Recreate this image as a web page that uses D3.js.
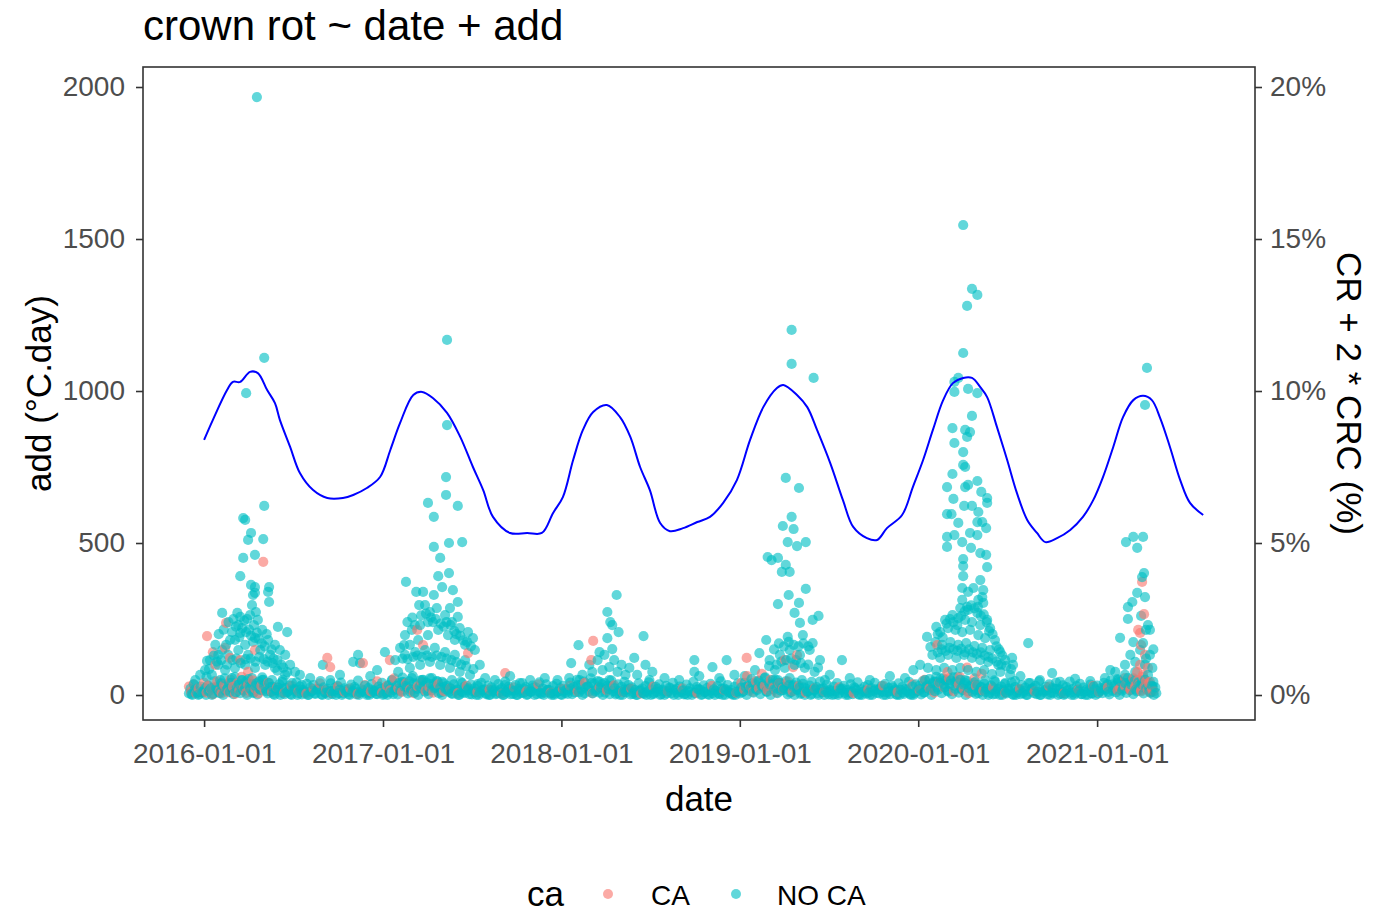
<!DOCTYPE html>
<html>
<head>
<meta charset="utf-8">
<script src="https://cdn.jsdelivr.net/npm/d3@7"></script>
<style>
  body { margin: 0; background: #fff; }
  svg { display: block; }
  text { font-family: "Liberation Sans", Arial, sans-serif; }
</style>
</head>
<body>
<div id="chart"></div>
<script>
// ---- data ----
const categories = ['CA', 'NO CA']
const colors = ['#F8766D', '#00BFC4']

const yTicks = [0, 500, 1000, 1500, 2000]
const pctTicks = [0, 5, 10, 15, 20]
const xTickYears = [2016, 2017, 2018, 2019, 2020, 2021]

// loess line, CR + 2*CRC (%)
const lineDates = ['2016-01-01','2016-01-19','2016-02-17','2016-02-29','2016-03-15','2016-04-04','2016-04-20','2016-05-09','2016-05-25','2016-06-04','2016-06-25','2016-07-15','2016-08-11','2016-09-09','2016-10-11','2016-11-01','2016-11-29','2016-12-26',
  '2017-01-16','2017-02-05','2017-03-04','2017-03-22','2017-04-13','2017-05-12','2017-06-08','2017-07-04','2017-07-25','2017-08-14','2017-09-18','2017-10-23','2017-11-22','2017-12-15',
  '2018-01-04','2018-01-25','2018-02-14','2018-03-07','2018-04-04','2018-05-01','2018-05-22','2018-06-11','2018-07-01','2018-07-22','2018-08-11','2018-09-07','2018-10-06','2018-11-01','2018-11-28','2018-12-26',
  '2019-01-22','2019-02-18','2019-03-18','2019-03-31','2019-04-28','2019-05-19','2019-06-08','2019-07-05','2019-07-31','2019-08-21','2019-09-18','2019-10-09','2019-10-29','2019-11-29','2019-12-21',
  '2020-01-11','2020-01-31','2020-02-21','2020-03-12','2020-04-02','2020-04-20','2020-05-07','2020-05-21','2020-06-10','2020-07-01','2020-07-21','2020-08-11','2020-08-31','2020-09-17','2020-10-11','2020-11-07','2020-12-03','2020-12-24',
  '2021-01-13','2021-02-03','2021-02-23','2021-03-16','2021-04-05','2021-04-23','2021-05-10','2021-05-30','2021-06-20','2021-07-10','2021-08-06']
const linePct = [8.39,9.05,10.03,10.30,10.30,10.63,10.59,10.03,9.60,9.05,8.16,7.30,6.74,6.48,6.48,6.58,6.81,7.17,
  8.06,8.95,9.87,9.97,9.77,9.28,8.49,7.50,6.74,5.86,5.33,5.33,5.33,5.99,
  6.51,7.73,8.72,9.31,9.54,9.14,8.49,7.50,6.74,5.66,5.39,5.49,5.69,5.86,6.32,7.07,
  8.39,9.47,10.10,10.20,9.87,9.47,8.72,7.63,6.41,5.53,5.16,5.10,5.49,5.92,6.84,
  7.73,8.72,9.70,10.26,10.43,10.43,10.13,9.80,8.82,7.73,6.64,5.76,5.33,5.03,5.16,5.43,5.86,6.41,
  7.17,8.16,9.14,9.70,9.84,9.70,9.11,8.16,7.07,6.32,5.92]

// NO CA low band, one value per week from 2015-12-01, -04 and -06
const noCaWeekly1 = `5 0 12 3 8
0 15 4 22 7 0 18 10 3 25 6 14 0 20 9 2 16 30 5 11 0 24 8 3 13 0 19 6 2 10 0 14 4 21 0 7 12 3 0 17 5 9 0 13 2 8 15 0 6 11 3 20
4 0 9 16 2 12 27 5 18 8 0 22 11 3 15 25 6 0 19 10 4 14 0 8 21 3 12 0 7 16 2 0 11 5 18 0 9 3 14 0 6 20 2 10 0 13 4 8 17 0 5 12
0 7 14 3 19 9 0 24 12 5 17 8 0 21 3 13 6 0 10 18 2 9 0 15 4 11 0 7 20 3 0 12 6 16 0 9 4 13 0 8 19 2 11 0 6 14 3 0 18 7 0 10
5 13 0 20 8 16 3 24 10 0 18 6 14 22 2 11 0 17 7 0 12 4 19 0 9 15 2 0 13 6 21 0 8 3 16 0 11 5 0 14 7 20 0 9 3 12 0 17 4 10 0 6
15 2 9 22 0 13 18 6 25 11 3 20 8 16 0 23 10 4 14 0 19 7 2 12 0 16 5 21 0 9 3 13 0 18 6 11 0 15 2 8 20 0 10 4 17 0 7 12 3 0 14 5
0 11 6 18 2 14 9 0 21 7 16 3 12 25 5 19 8 0`
const noCaWeekly2 = `20 35 8 28 14
30 22 45 18 38 55 26 40 60 33 48 24 52 36 29 44 58 21 39 27 16 35 50 23 31 19 42 28 15 37 24 33 17 46 25 20 38 14 29 41 22 18 34 26 47 19 31 23 36 15 28 40
25 33 48 20 39 57 30 45 62 35 28 50 41 55 32 46 24 38 30 21 35 18 43 27 16 34 22 29 40 19 31 25 17 36 23 44 28 15 33 20 39 26 18 31 24 42 21 35 16 29 37 22
30 19 41 26 50 33 44 28 55 37 46 24 39 31 48 22 35 27 18 33 25 16 38 21 29 42 19 27 35 17 30 24 40 20 28 15 34 22 43 26 18 32 23 37 19 29 45 21 33 16 27 38
24 40 31 52 36 47 28 58 43 35 50 39 26 45 33 29 41 24 37 20 31 18 26 44 22 34 17 28 39 21 30 16 35 25 42 19 27 33 22 40 17 29 36 23 31 18 38 26 20 43 28 35
30 45 26 52 38 60 41 55 47 36 58 43 50 34 46 29 40 33 25 37 22 31 48 19 28 36 21 42 26 17 33 24 39 20 30 45 18 27 35 23 41 19 32 26 44 21 29 37 24 18 34 28
31 22 40 35 48 29 52 44 38 56 33 47 41 35 50 28 30 25`
const noCaWeekly3 = `3 18 0 10 22
12 0 25 8 30 14 40 22 9 35 18 45 28 6 38 20 50 12 26 4 16 0 21 9 3 14 0 18 7 0 11 5 19 2 8 0 13 24 6 0 15 3 9 20 0 12 7 0 17 4 10 0
8 21 3 30 15 42 26 10 38 20 48 30 14 36 22 44 9 27 16 5 19 0 12 7 22 2 10 0 15 6 0 18 3 9 0 12 20 4 0 14 7 0 11 24 3 8 0 16 5 0 10 2
14 4 22 9 33 18 6 28 40 12 25 35 8 19 30 2 13 0 9 20 4 0 14 7 0 18 3 10 0 12 5 22 0 8 15 2 0 11 6 19 0 9 3 14 0 7 21 0 10 4 0 13
9 26 14 38 20 45 30 12 35 50 22 40 16 28 8 33 18 4 24 11 0 15 6 20 0 9 13 2 0 17 7 0 11 22 3 0 14 8 0 19 5 10 0 13 24 2 0 9 16 4 0 12
20 8 32 16 44 25 55 36 14 48 30 60 22 40 12 34 18 6 26 10 0 16 4 21 0 9 14 2 0 18 6 0 12 23 3 0 10 15 0 7 20 4 0 13 8 0 17 3 11 0 6 19
5 16 27 10 34 20 45 14 38 26 50 18 32 40 22 12 28 6`

// NO CA season points, "day of year:add"
const noCa2016 = '108:1967 123:1109 86:993 123:622 80:582 84:576 96:533 90:510 121:513 80:451 104:461 74:391 104:355 133:355 104:336 133:306 131:339 37:270 68:270 74:257 151:224 170:207 53:181 74:204 6:112 96:362 100:329 98:296 94:263 106:273 102:230 110:247 78:220 63:181 84:165 104:188 119:214 131:181 145:165 155:148 166:132 37:148 23:165 12:115 29:99 49:132 70:148 90:132 115:148 135:132 176:99 186:76 196:66 43:82 63:89 84:99 104:89 125:99 145:89 166:66 16:66 33:49 57:56 78:49 98:56 119:49 139:49 160:43 180:39 200:33 243:99 315:132 319:105 305:109 354:82 278:66 217:56 258:49 340:62 -8:66 -18:49 2:82 29:132 45:165 57:207 70:230 86:207 ' +
  '30:200 40:215 50:240 60:250 65:225 72:190 82:245 88:250 92:215 96:195 100:175 108:205 112:185 118:170 124:160 128:200 138:150 142:120 150:115 158:100 162:90 20:130 26:110 35:115 47:100 58:115 66:120 75:105 85:118 95:120 105:110 113:125 122:118 130:110 140:105 150:80 170:75 10:85 5:60'
const noCa2017 = '131:1168 131:888 129:717 129:658 92:632 104:586 153:622 104:487 135:500 162:503 117:451 113:391 135:401 121:355 143:345 137:286 153:306 153:257 174:207 184:187 47:372 68:339 82:339 104:329 74:296 43:164 86:296 96:273 110:286 127:263 141:240 157:220 92:240 76:230 59:214 45:197 35:155 55:165 72:181 92:197 113:214 133:197 147:181 168:165 188:148 25:115 45:132 66:141 86:148 106:155 127:141 147:132 168:115 198:99 31:76 55:89 76:99 96:109 117:99 137:89 157:76 178:66 209:56 18:49 39:43 59:56 80:49 100:56 121:43 141:49 162:39 194:36 229:49 250:33 260:62 301:49 331:56 280:39 4:141 ' +
  '50:240 60:255 65:230 78:262 88:268 98:255 102:240 108:250 118:235 124:225 130:240 138:230 146:210 150:200 158:195 164:180 172:175 180:160 40:120 50:118 62:125 70:130 80:125 90:130 100:125 110:130 120:125 130:120 140:115 150:108 160:100 170:95 185:85'
const noCa2018 = '113:329 94:273 100:240 104:230 117:207 168:194 94:187 35:164 78:141 104:151 20:105 149:122 172:99 272:115 272:76 309:92 338:115 57:99 74:115 88:132 108:115 123:99 139:89 43:66 63:76 84:82 98:92 115:76 131:66 155:66 186:76 37:49 78:43 98:49 129:43 180:49 211:56 241:49 282:62 323:56 354:66 16:56 -8:49'
const noCa2019 = '106:1201 106:1089 151:1043 94:714 121:681 106:586 88:556 110:546 98:503 117:490 135:503 57:454 78:451 65:444 94:428 102:405 86:405 135:349 100:329 121:303 78:299 112:270 161:260 149:247 123:237 98:191 129:197 149:171 54:181 40:138 61:115 82:132 102:148 123:132 143:148 164:115 72:82 92:89 112:99 133:89 153:76 184:66 51:56 78:49 102:56 127:49 147:43 174:49 209:115 225:56 266:49 307:62 338:56 31:82 10:62 ' +
  '70:150 80:170 90:160 100:175 110:165 120:160 130:170 140:160 60:95 75:100 85:110 95:115 105:120 115:115 125:105 140:100 160:90'
const noCa2020 = '92:1546 110:1336 121:1316 100:1280 92:1125 74:1030 82:1043 74:997 102:1007 121:993 110:918 70:878 96:872 106:865 100:849 74:829 92:799 92:757 96:750 70:727 121:704 59:684 96:684 102:691 129:668 141:648 141:632 72:645 59:595 68:595 94:622 110:622 123:602 121:569 82:566 131:569 139:549 59:520 59:487 74:526 90:503 106:533 121:526 108:484 127:467 139:461 92:447 141:421 92:424 92:391 127:378 90:352 102:339 113:352 133:345 131:322 90:313 123:313 133:303 86:286 102:280 121:270 141:247 37:224 18:191 25:158 225:171 -10:82 4:99 192:122 194:99 274:72 55:247 70:263 82:253 96:247 110:240 127:230 147:220 45:207 61:220 76:214 90:207 106:214 123:197 137:187 157:181 35:174 49:165 66:174 82:165 98:171 115:161 131:155 147:148 168:141 29:132 45:122 61:132 78:122 94:132 110:122 127:115 143:109 164:99 178:115 20:89 37:82 53:89 70:82 86:89 102:82 119:76 135:82 151:69 168:76 188:66 209:62 14:49 35:43 55:49 76:43 96:49 117:43 137:49 157:43 178:39 198:46 229:39 249:49 290:43 321:53 352:46 ' +
  '40:200 50:190 58:235 65:250 72:240 80:230 88:260 95:275 100:290 108:295 115:285 122:290 128:260 134:265 140:240 145:210 152:200 160:160 165:150 172:130 40:140 48:150 56:145 64:155 72:150 80:145 88:152 96:140 104:150 112:140 120:135 128:140 136:130 144:125 152:120 160:110 170:100 180:95 190:85'
const noCa2021 = '102:1076 98:954 59:503 74:520 94:520 82:484 96:401 92:388 82:336 98:322 63:289 72:306 100:214 108:214 47:188 74:174 94:171 68:132 88:148 108:132 57:99 78:109 98:99 113:89 37:76 57:66 78:76 104:66 16:56 43:49 68:43 92:49 115:43 27:82 63:250 104:230 90:260 115:150 100:120'

// CA points, "day of year:add"
const ca2016 = '121:438 45:237 6:194 18:141 43:155 53:122 23:99 74:115 104:148 90:76 252:122 258:92 325:105 380:115 436:214 448:164 540:138 616:72'
const ca2018 = '65:178 61:115 379:122'
const ca2019 = '92:115 117:131 109:92'
const ca2020 = '39:164 60:75 85:60 100:90 115:55 130:70'
const ca2021 = '92:372 96:266 84:214 88:204 90:164 98:132 88:99 104:89 94:66 84:49 108:43 100:23 90:16 113:16 78:30 68:16 47:23 57:56'
// CA low band, "days since 2015-12-01:add"
const caLow = '0:28 4:10 9:35 15:5 20:22 26:12 31:40 36:8 40:30 45:18 49:3 54:25 58:45 63:14 67:6 72:33 76:20 81:9 85:50 90:27 94:4 99:38 103:16 108:60 112:22 117:7 121:35 126:12 131:48 136:20 142:5 148:30 155:14 162:40 170:10 180:25 195:8 210:30 224:12 240:5 255:20 268:38 280:15 292:6 305:28 318:10 330:22 345:4 360:33 372:12 385:45 395:8 405:30 412:15 420:55 428:22 436:10 444:38 452:18 460:6 468:28 476:42 484:14 492:25 500:8 510:35 522:12 535:22 550:6 568:30 590:10 615:18 640:5 665:25 690:12 715:35 740:8 765:20 780:30 795:12 810:40 825:6 840:25 855:15 870:32 888:10 905:20 925:5 950:28 980:12 1010:22 1040:6 1070:30 1095:15 1120:8 1130:40 1136:18 1142:62 1148:28 1154:10 1160:45 1166:22 1172:70 1178:30 1184:15 1190:50 1196:25 1202:8 1208:38 1215:20 1225:45 1235:12 1248:30 1262:8 1280:22 1300:10 1330:25 1360:6 1390:18 1420:30 1450:10 1480:35 1495:15 1505:50 1515:22 1525:8 1535:40 1545:25 1555:55 1565:12 1575:35 1585:20 1595:6 1610:30 1625:14 1645:25 1670:8 1700:20 1730:12 1760:28 1790:6 1820:18 1850:30 1862:10 1880:25 1900:15 1915:30 1926:20 1932:55 1936:25 1940:75 1944:35 1948:12 1952:60 1955:28 1958:45 1961:18 1964:38 1967:8 1970:25 1974:12'

// ---- parsing ----
function pairs(str, y, m = 0, d0 = 1) {
  return str.trim().split(/\s+/).map(p => {
    const [d, v] = p.split(':').map(Number)
    return { date: new Date(Date.UTC(y, m, d0 + d)), add: v }
  })
}
function weekly(str, start) {
  return str.trim().split(/\s+/).map((v, i) => ({ date: d3.utcDay.offset(start, i * 7), add: +v }))
}

const caPts = [
  ...pairs(caLow, 2015, 11, 1),
  ...pairs(ca2016, 2016), ...pairs(ca2018, 2018), ...pairs(ca2019, 2019),
  ...pairs(ca2020, 2020), ...pairs(ca2021, 2021),
].map(d => ({ ...d, ca: 'CA' }))
const noCaPts = [
  ...weekly(noCaWeekly1, new Date(Date.UTC(2015, 11, 1))),
  ...weekly(noCaWeekly2, new Date(Date.UTC(2015, 11, 4))),
  ...weekly(noCaWeekly3, new Date(Date.UTC(2015, 11, 6))),
  ...pairs(noCa2016, 2016), ...pairs(noCa2017, 2017), ...pairs(noCa2018, 2018),
  ...pairs(noCa2019, 2019), ...pairs(noCa2020, 2020), ...pairs(noCa2021, 2021),
].map(d => ({ ...d, ca: 'NO CA' }))
const points = [...caPts, ...noCaPts].sort((a, b) => a.date - b.date)

const lineData = lineDates.map((d, i) => ({ date: new Date(d + 'T00:00:00Z'), pct: linePct[i] }))

// ---- layout ----
const W = 1383, H = 914
const P = { left: 143, right: 1255, top: 67, bottom: 720 }
const tickCol = '#333333', labCol = '#4D4D4D'

const svg = d3.select('#chart').append('svg').attr('width', W).attr('height', H)
svg.append('rect').attr('width', W).attr('height', H).attr('fill', '#fff')

const x = d3.scaleUtc()
  .domain([new Date(Date.UTC(2015, 7, 29)), new Date(Date.UTC(2021, 10, 20))])
  .range([P.left, P.right])
const y = d3.scaleLinear().domain([-82.2, 2065.8]).range([P.bottom, P.top])
const yPct = d3.scaleLinear().domain([-0.822, 20.658]).range([P.bottom, P.top])
const color = d3.scaleOrdinal().domain(categories).range(colors)

// Points
svg.append('g')
  .selectAll('circle')
  .data(points)
  .join('circle')
  .attr('cx', d => x(d.date))
  .attr('cy', d => y(d.add))
  .attr('r', 5.1)
  .attr('fill', d => color(d.ca))
  .attr('fill-opacity', 0.62)

// Smooth line (secondary axis)
svg.append('path')
  .datum(lineData)
  .attr('fill', 'none')
  .attr('stroke', '#0000FF')
  .attr('stroke-width', 2)
  .attr('d', d3.line().x(d => x(d.date)).y(d => yPct(d.pct)).curve(d3.curveCatmullRom))

// Panel border
svg.append('rect')
  .attr('x', P.left).attr('y', P.top)
  .attr('width', P.right - P.left).attr('height', P.bottom - P.top)
  .attr('fill', 'none').attr('stroke', tickCol).attr('stroke-width', 1.6)

function styleAxis(g) {
  g.select('.domain').remove()
  g.selectAll('line').attr('stroke', tickCol).attr('stroke-width', 1.6)
  g.selectAll('text').attr('fill', labCol).attr('font-size', 28)
    .attr('font-family', '"Liberation Sans", Arial, sans-serif')
}

// Axes
svg.append('g').attr('transform', `translate(${P.left},0)`)
  .call(d3.axisLeft(y).tickValues(yTicks).tickSize(7).tickPadding(11).tickFormat(d3.format('d')))
  .call(styleAxis)
svg.append('g').attr('transform', `translate(${P.right},0)`)
  .call(d3.axisRight(yPct).tickValues(pctTicks).tickSize(7).tickPadding(8).tickFormat(d => d + '%'))
  .call(styleAxis)
svg.append('g').attr('transform', `translate(0,${P.bottom})`)
  .call(d3.axisBottom(x)
    .tickValues(xTickYears.map(yr => new Date(Date.UTC(yr, 0, 1))))
    .tickSize(7).tickPadding(16)
    .tickFormat(d3.utcFormat('%Y-%m-%d')))
  .call(styleAxis)

// Titles
svg.append('text').attr('x', P.left).attr('y', 40)
  .attr('font-size', 42).attr('fill', '#000').text('crown rot ~ date + add')
svg.append('text').attr('x', (P.left + P.right) / 2).attr('y', 811)
  .attr('text-anchor', 'middle').attr('font-size', 35).attr('fill', '#000').text('date')
svg.append('text')
  .attr('transform', `translate(51,${(P.top + P.bottom) / 2}) rotate(-90)`)
  .attr('text-anchor', 'middle').attr('font-size', 35).attr('fill', '#000').text('add (°C.day)')
svg.append('text')
  .attr('transform', `translate(1337,${(P.top + P.bottom) / 2}) rotate(90)`)
  .attr('text-anchor', 'middle').attr('font-size', 35).attr('fill', '#000').text('CR + 2 * CRC (%)')

// Legend
const legend = svg.append('g')
legend.append('text').attr('x', 527).attr('y', 906).attr('font-size', 35).attr('fill', '#000').text('ca')
const keys = [{ cx: 608, tx: 651 }, { cx: 736, tx: 777 }]
categories.forEach((c, i) => {
  legend.append('circle').attr('cx', keys[i].cx).attr('cy', 894).attr('r', 5)
    .attr('fill', color(c)).attr('fill-opacity', 0.62)
  legend.append('text').attr('x', keys[i].tx).attr('y', 905).attr('font-size', 28).attr('fill', '#000').text(c)
})
</script>
</body>
</html>
